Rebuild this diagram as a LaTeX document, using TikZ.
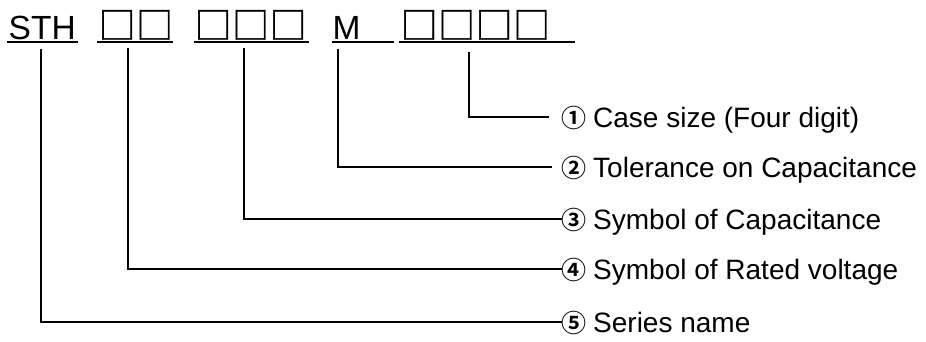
\documentclass[tikz,border=0pt]{standalone}
\usepackage{fontspec}
\setmainfont{Liberation Sans}
\newfontfamily\cjkfont[FakeBold=1]{Noto Sans CJK JP}
\newfontfamily\circfont{Noto Sans CJK JP Bold}
\newcommand{\bx}{\makebox[37.5pt][c]{\cjkfont\fontsize{37}{40}\selectfont □}}
\newcommand{\circnum}[1]{\makebox[32pt][l]{\circfont\fontsize{25}{28}\selectfont #1}}
\begin{document}
\begin{tikzpicture}[x=1pt,y=-1pt,
  lead/.style={line width=2.6pt},
  uline/.style={line width=2pt},
  code/.style={anchor=base west,inner sep=0pt,font=\fontsize{33.5}{36}\selectfont},
  lab/.style={anchor=base west,inner sep=0pt,font=\fontsize{28}{30}\selectfont}]
\useasboundingbox (0,0) rectangle (926,341);
% code line
\node[code] (sth) at (8.5,39) {STH};
\node[code] (vol) at (98.25,39) {\bx\bx};
\node[code] (cap) at (194.25,39) {\bx\bx\bx};
\node[code] (tol) at (332.5,39) {M};
\node[code] (case) at (400.25,39) {\bx\bx\bx\bx};
\draw[uline] (7,42) -- (78,42);
\draw[uline] (97,42) -- (173,42);
\draw[uline] (194,42) -- (309,42);
\draw[uline] (332,42) -- (394,42);
\draw[uline] (399,42) -- (575,42);
% labels
\node[lab] (l1) at (561,127) {\circnum{①}Case size (Four digit)};
\node[lab] (l2) at (561,177) {\circnum{②}Tolerance on Capacitance};
\node[lab] (l3) at (561,229) {\circnum{③}Symbol of Capacitance};
\node[lab] (l4) at (561,279) {\circnum{④}Symbol of Rated voltage};
\node[lab] (l5) at (561,332) {\circnum{⑤}Series name};
% lead starts
\coordinate (t1) at (469,52);
\coordinate (t2) at (338,49);
\coordinate (t3) at (244,48);
\coordinate (t4) at (128,48);
\coordinate (t5) at (41,49);
\draw[lead] (t1) |- ([shift={(-12pt,10pt)}]l1.base west);
\draw[lead] (t2) |- ([shift={(-9pt,10pt)}]l2.base west);
\draw[lead] (t3) |- ([shift={(1pt,10pt)}]l3.base west);
\draw[lead] (t4) |- ([shift={(1pt,10pt)}]l4.base west);
\draw[lead] (t5) |- ([shift={(1pt,10pt)}]l5.base west);
\end{tikzpicture}
\end{document}
